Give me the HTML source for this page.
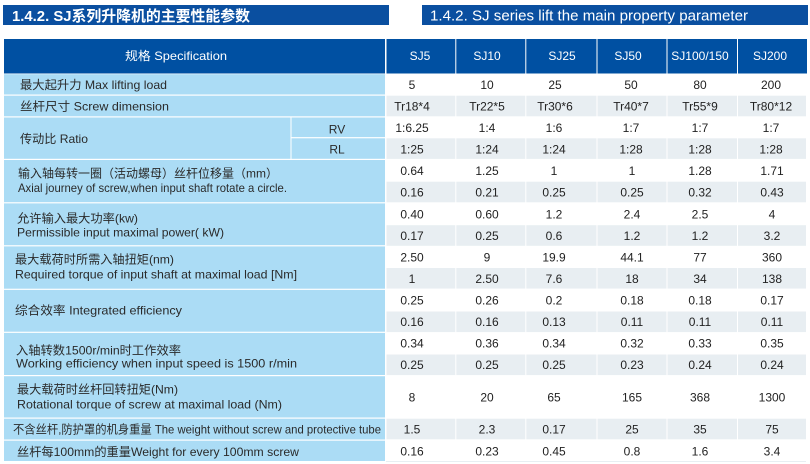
<!DOCTYPE html>
<html><head><meta charset="utf-8"><style>
html,body{margin:0;padding:0;background:#fff;}
svg{display:block;}
text{font-family:"Liberation Sans","Noto Sans CJK SC",sans-serif;}
</style></head><body>
<svg width="810" height="464" viewBox="0 0 810 464" xmlns="http://www.w3.org/2000/svg">
<rect x="0" y="0" width="810" height="464" fill="#fff"/>
<!-- titles -->
<rect x="3" y="5" width="386" height="20" fill="#0a4fa0"/>
<text x="12" y="21" font-size="15" font-weight="bold" fill="#fff" textLength="238" lengthAdjust="spacingAndGlyphs">1.4.2. SJ系列升降机的主要性能参数</text>
<rect x="422" y="5" width="386" height="20" fill="#0a4fa0"/>
<text x="430" y="20.5" font-size="15" fill="#fff" textLength="318" lengthAdjust="spacingAndGlyphs">1.4.2. SJ series lift the main property parameter</text>

<!-- header -->
<g fill="#0050a2">
<rect x="4" y="39" width="381" height="34.5"/>
<rect x="386.5" y="39" width="68.8" height="34.5"/>
<rect x="456.3" y="39" width="69" height="34.5"/>
<rect x="526.3" y="39" width="70.2" height="34.5"/>
<rect x="597.5" y="39" width="69" height="34.5"/>
<rect x="667.5" y="39" width="69.5" height="34.5"/>
<rect x="738" y="39" width="69" height="34.5"/>
</g>
<g fill="#fff" font-size="12" text-anchor="middle">
<text x="176" y="60" textLength="102" lengthAdjust="spacingAndGlyphs">规格  Specification</text>
<text x="420" y="60">SJ5</text>
<text x="487" y="60">SJ10</text>
<text x="562" y="60">SJ25</text>
<text x="628" y="60">SJ50</text>
<text x="700" y="60">SJ100/150</text>
<text x="770" y="60">SJ200</text>
</g>

<!-- label column -->
<g fill="#abdcf5">
<rect x="4" y="74.2" width="381" height="20.3"/>
<rect x="4" y="95.7" width="381" height="20.6"/>
<rect x="4" y="117.5" width="286.5" height="41.3"/>
<rect x="291.5" y="117.5" width="93.5" height="19.6"/>
<rect x="291.5" y="138.3" width="93.5" height="20.5"/>
<rect x="4" y="160" width="381" height="42.2"/>
<rect x="4" y="203.4" width="381" height="41.8"/>
<rect x="4" y="246.4" width="381" height="42.3"/>
<rect x="4" y="289.9" width="381" height="41.8"/>
<rect x="4" y="332.9" width="381" height="42.1"/>
<rect x="4" y="376.2" width="381" height="41.3"/>
<rect x="4" y="418.7" width="381" height="20.8"/>
<rect x="4" y="440.7" width="381" height="20.3"/>
</g>
<g fill="#2a2a2a" font-size="12">
<text x="20" y="89" textLength="147" lengthAdjust="spacingAndGlyphs">最大起升力 Max lifting load</text>
<text x="20" y="110.5" textLength="149" lengthAdjust="spacingAndGlyphs">丝杆尺寸  Screw dimension</text>
<text x="20" y="143" textLength="68" lengthAdjust="spacingAndGlyphs">传动比 Ratio</text>
<text x="337" y="133.5" text-anchor="middle">RV</text>
<text x="337" y="153.5" text-anchor="middle">RL</text>
<text x="18" y="177.5" textLength="260" lengthAdjust="spacingAndGlyphs">输入轴每转一圈（活动螺母）丝杆位移量（mm）</text>
<text x="18" y="192" textLength="269" lengthAdjust="spacingAndGlyphs">Axial journey of screw,when input shaft rotate a circle.</text>
<text x="17" y="222.5" textLength="121" lengthAdjust="spacingAndGlyphs">允许输入最大功率(kw)</text>
<text x="17" y="236.5" textLength="207" lengthAdjust="spacingAndGlyphs">Permissible input maximal power( kW)</text>
<text x="15" y="263.5" textLength="159" lengthAdjust="spacingAndGlyphs">最大载荷时所需入轴扭矩(nm)</text>
<text x="15" y="278.5" textLength="282" lengthAdjust="spacingAndGlyphs">Required torque of input shaft at maximal load [Nm]</text>
<text x="15" y="314.5" textLength="167" lengthAdjust="spacingAndGlyphs">综合效率  Integrated efficiency</text>
<text x="16" y="354.5" textLength="165" lengthAdjust="spacingAndGlyphs">入轴转数1500r/min时工作效率</text>
<text x="16" y="367.5" textLength="281" lengthAdjust="spacingAndGlyphs">Working  efficiency  when input speed is 1500 r/min</text>
<text x="17" y="393.5" textLength="161" lengthAdjust="spacingAndGlyphs">最大载荷时丝杆回转扭矩(Nm)</text>
<text x="17" y="408.5" textLength="265" lengthAdjust="spacingAndGlyphs">Rotational torque of screw at maximal load  (Nm)</text>
<text x="13" y="433.5" textLength="368" lengthAdjust="spacingAndGlyphs">不含丝杆,防护罩的机身重量 The weight without screw and protective tube</text>
<text x="17" y="456" textLength="282" lengthAdjust="spacingAndGlyphs">丝杆每100mm的重量Weight for every 100mm screw</text>
</g>

<!-- gray data rows -->
<g fill="#e8eef2">
<g id="g1">
<rect x="386.5" y="95.7" width="68.8" height="20.6"/>
<rect x="456.3" y="95.7" width="69" height="20.6"/>
<rect x="526.3" y="95.7" width="70.2" height="20.6"/>
<rect x="597.5" y="95.7" width="69" height="20.6"/>
<rect x="667.5" y="95.7" width="69.5" height="20.6"/>
<rect x="738" y="95.7" width="68" height="20.6"/>
</g>
<use href="#g1" y="42.6"/>
<use href="#g1" y="86"/>
<use href="#g1" y="129.5"/>
<use href="#g1" y="172.3"/>
<use href="#g1" y="215.8"/>
<use href="#g1" y="258.8"/>
<use href="#g1" y="323"/>
</g>

<!-- data text -->
<g fill="#222" font-size="12" text-anchor="middle">
<g transform="translate(0,89)">
<text x="412">5</text><text x="487">10</text><text x="555">25</text><text x="631">50</text><text x="700">80</text><text x="771">200</text></g>
<g transform="translate(0,110.5)">
<text x="412">Tr18*4</text><text x="487">Tr22*5</text><text x="555">Tr30*6</text><text x="631">Tr40*7</text><text x="700">Tr55*9</text><text x="771">Tr80*12</text></g>
<g transform="translate(0,132)">
<text x="412">1:6.25</text><text x="487">1:4</text><text x="554">1:6</text><text x="631">1:7</text><text x="700">1:7</text><text x="771">1:7</text></g>
<g transform="translate(0,153.3)">
<text x="412">1:25</text><text x="487">1:24</text><text x="554">1:24</text><text x="631">1:28</text><text x="700">1:28</text><text x="771">1:28</text></g>
<g transform="translate(0,174.8)">
<text x="412">0.64</text><text x="487">1.25</text><text x="554">1</text><text x="632">1</text><text x="700">1.28</text><text x="772">1.71</text></g>
<g transform="translate(0,196.5)">
<text x="412">0.16</text><text x="487">0.21</text><text x="554">0.25</text><text x="632">0.25</text><text x="700">0.32</text><text x="772">0.43</text></g>
<g transform="translate(0,218.3)">
<text x="412">0.40</text><text x="487">0.60</text><text x="554">1.2</text><text x="632">2.4</text><text x="700">2.5</text><text x="772">4</text></g>
<g transform="translate(0,239.8)">
<text x="412">0.17</text><text x="487">0.25</text><text x="554">0.6</text><text x="632">1.2</text><text x="700">1.2</text><text x="772">3.2</text></g>
<g transform="translate(0,261.3)">
<text x="412">2.50</text><text x="487">9</text><text x="554">19.9</text><text x="632">44.1</text><text x="700">77</text><text x="772">360</text></g>
<g transform="translate(0,282.8)">
<text x="412">1</text><text x="487">2.50</text><text x="554">7.6</text><text x="632">18</text><text x="700">34</text><text x="772">138</text></g>
<g transform="translate(0,304.5)">
<text x="412">0.25</text><text x="487">0.26</text><text x="554">0.2</text><text x="632">0.18</text><text x="700">0.18</text><text x="772">0.17</text></g>
<g transform="translate(0,326)">
<text x="412">0.16</text><text x="487">0.16</text><text x="554">0.13</text><text x="632">0.11</text><text x="700">0.11</text><text x="772">0.11</text></g>
<g transform="translate(0,347.5)">
<text x="412">0.34</text><text x="487">0.36</text><text x="554">0.34</text><text x="632">0.32</text><text x="700">0.33</text><text x="772">0.35</text></g>
<g transform="translate(0,369)">
<text x="412">0.25</text><text x="487">0.25</text><text x="554">0.25</text><text x="632">0.23</text><text x="700">0.24</text><text x="772">0.24</text></g>
<g transform="translate(0,401.3)">
<text x="412">8</text><text x="487">20</text><text x="554">65</text><text x="632">165</text><text x="700">368</text><text x="772">1300</text></g>
<g transform="translate(0,433.5)">
<text x="412">1.5</text><text x="487">2.3</text><text x="554">0.17</text><text x="632">25</text><text x="700">35</text><text x="772">75</text></g>
<g transform="translate(0,455.5)">
<text x="412">0.16</text><text x="487">0.23</text><text x="554">0.45</text><text x="632">0.8</text><text x="700">1.6</text><text x="772">3.4</text></g>
</g>
<line x1="386" y1="461.5" x2="806" y2="461.5" stroke="#e8eef2" stroke-width="1"/>
</svg>
</body></html>
